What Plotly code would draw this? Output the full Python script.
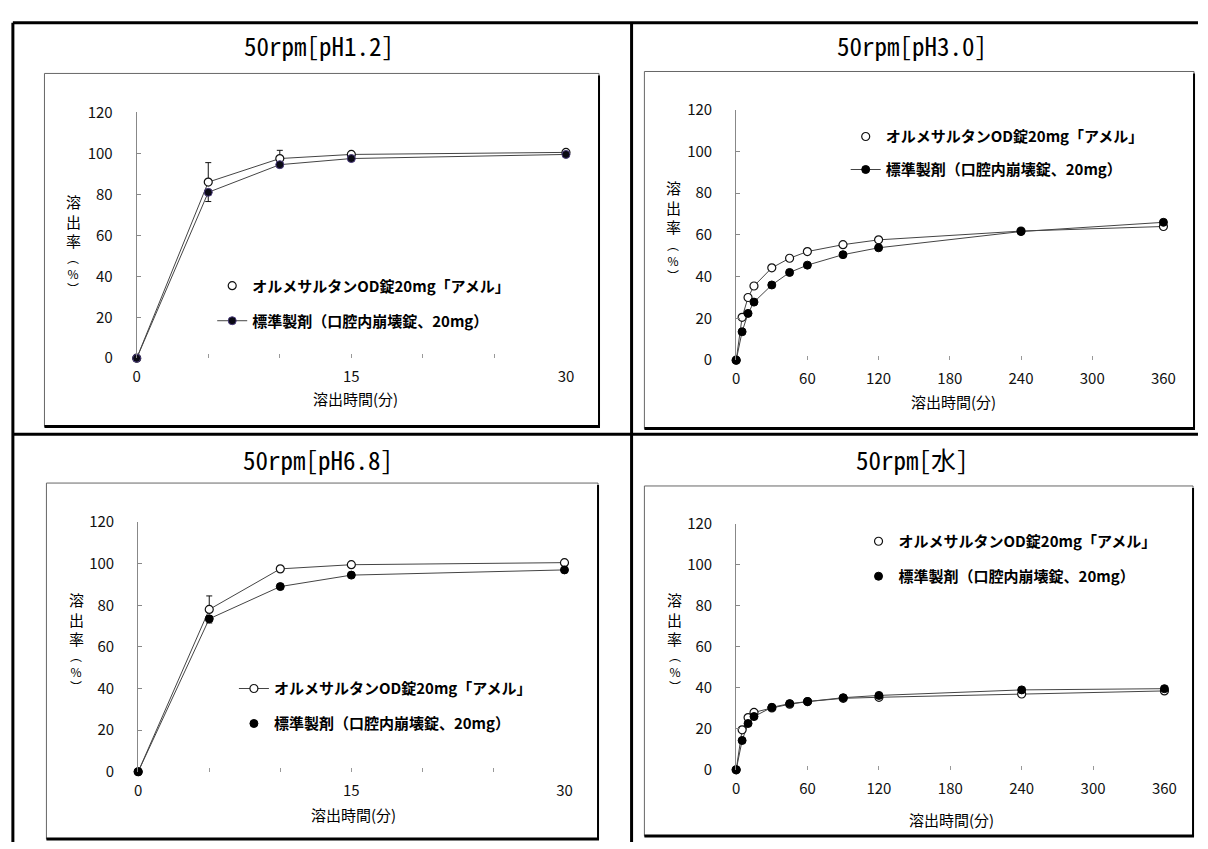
import plotly.graph_objects as go

W, H = 1208, 849

# ---------------- data ----------------
time_short = [0, 5, 10, 15, 30]
time_long = [0, 5, 10, 15, 30, 45, 60, 90, 120, 240, 360]

ph12_test = [0, 86, 97.5, 99.5, 100.5]
ph12_ref = [0, 81, 94.5, 97.5, 99.5]
ph12_test_err = [0, 9.5, 4, 0.5, 0.5]
ph12_ref_err = [0, 4.5, 1, 1, 0.5]

ph30_test = [0, 20.5, 30, 35.5, 44.2, 48.8, 52, 55.3, 57.6, 61.8, 64]
ph30_ref = [0, 13.6, 22.4, 27.8, 36, 42, 45.5, 50.5, 53.8, 61.6, 66]

ph68_test = [0, 78, 97.5, 99.5, 100.5]
ph68_ref = [0, 73.5, 89, 94.5, 97]
ph68_test_err = [0, 6.5, 0.5, 0.5, 0.5]
ph68_ref_err = [0, 2, 0.5, 0.5, 0.5]

water_test = [0, 19.5, 25.5, 28, 30.2, 32, 33.3, 34.9, 35.4, 37, 38.5]
water_ref = [0, 14.3, 22.6, 26, 30.5, 32.3, 33.3, 35.2, 36.3, 39, 39.6]

test_name = "オルメサルタンOD錠20mg「アメル」"
ref_name = "標準製剤（口腔内崩壊錠、20mg）"
panel_titles = ["50rpm[pH1.2]", "50rpm[pH3.0]", "50rpm[pH6.8]", "50rpm[水]"]
x_title = "溶出時間(分)"
y_title_main = "溶<br>出<br>率"
y_title_unit = "︵<br>%<br>︶"

y_ticks = [0, 20, 40, 60, 80, 100, 120]
x_ticks_short = [0, 5, 10, 15, 20, 25, 30]
x_ticktext_short = ["0", "", "", "15", "", "", "30"]
x_ticks_long = [0, 60, 120, 180, 240, 300, 360]
x_ticktext_long = ["0", "60", "120", "180", "240", "300", "360"]


def fx(p):
    return p / W


def fy(p):
    return 1 - p / H


JP = "Noto Sans CJK JP, Noto Sans, sans-serif"
MONO = "Noto Sans Mono CJK JP, Noto Sans CJK JP, DejaVu Sans Mono, monospace"
LINE_C = "#444"

fig = go.Figure()

open_marker = dict(symbol="circle", size=8, color="white", line=dict(color="#111", width=1.2))
fill_marker = dict(symbol="circle", size=8, color="#000", line=dict(color="#000", width=1))
fill_marker_p = dict(symbol="circle", size=8, color="#0a0a14", line=dict(color="#4a3b7c", width=1))


def err(vals, plus):
    if plus:
        return dict(type="data", array=vals, arrayminus=[0] * len(vals), symmetric=False,
                    color="#111", thickness=1, width=3)
    return dict(type="data", array=[0] * len(vals), arrayminus=vals, symmetric=False,
                color="#111", thickness=1, width=3)


# panel 1: pH1.2
fig.add_trace(go.Scatter(x=time_short, y=ph12_test, mode="lines", line=dict(color=LINE_C, width=1),
                         showlegend=False, xaxis="x", yaxis="y", cliponaxis=False, hoverinfo="skip"))
fig.add_trace(go.Scatter(x=time_short, y=ph12_test, mode="markers", marker=open_marker, name=test_name,
                         error_y=err(ph12_test_err, True), legendgroup="a1", legend="legend",
                         xaxis="x", yaxis="y", cliponaxis=False))
fig.add_trace(go.Scatter(x=time_short, y=ph12_ref, mode="lines+markers", marker=fill_marker_p,
                         line=dict(color=LINE_C, width=1), name=ref_name,
                         error_y=err(ph12_ref_err, False), legendgroup="b1", legend="legend",
                         xaxis="x", yaxis="y", cliponaxis=False))

# panel 2: pH3.0
fig.add_trace(go.Scatter(x=time_long, y=ph30_test, mode="lines", line=dict(color=LINE_C, width=1),
                         showlegend=False, xaxis="x2", yaxis="y2", cliponaxis=False, hoverinfo="skip"))
fig.add_trace(go.Scatter(x=time_long, y=ph30_test, mode="markers", marker=open_marker, name=test_name,
                         legendgroup="a2", legend="legend2", xaxis="x2", yaxis="y2", cliponaxis=False))
fig.add_trace(go.Scatter(x=time_long, y=ph30_ref, mode="lines+markers", marker=fill_marker,
                         line=dict(color=LINE_C, width=1), name=ref_name,
                         legendgroup="b2", legend="legend2", xaxis="x2", yaxis="y2", cliponaxis=False))

# panel 3: pH6.8
fig.add_trace(go.Scatter(x=time_short, y=ph68_ref, mode="lines", line=dict(color=LINE_C, width=1),
                         showlegend=False, xaxis="x3", yaxis="y3", cliponaxis=False, hoverinfo="skip"))
fig.add_trace(go.Scatter(x=time_short, y=ph68_test, mode="lines+markers", marker=open_marker,
                         line=dict(color=LINE_C, width=1), name=test_name,
                         error_y=err(ph68_test_err, True), legendgroup="a3", legend="legend3",
                         xaxis="x3", yaxis="y3", cliponaxis=False))
fig.add_trace(go.Scatter(x=time_short, y=ph68_ref, mode="markers", marker=fill_marker, name=ref_name,
                         error_y=err(ph68_ref_err, False), legendgroup="b3", legend="legend3",
                         xaxis="x3", yaxis="y3", cliponaxis=False))

# panel 4: water
fig.add_trace(go.Scatter(x=time_long, y=water_test, mode="lines", line=dict(color=LINE_C, width=1),
                         showlegend=False, xaxis="x4", yaxis="y4", cliponaxis=False, hoverinfo="skip"))
fig.add_trace(go.Scatter(x=time_long, y=water_ref, mode="lines", line=dict(color=LINE_C, width=1),
                         showlegend=False, xaxis="x4", yaxis="y4", cliponaxis=False, hoverinfo="skip"))
fig.add_trace(go.Scatter(x=time_long, y=water_test, mode="markers", marker=open_marker, name=test_name,
                         legendgroup="a4", legend="legend4", xaxis="x4", yaxis="y4", cliponaxis=False))
fig.add_trace(go.Scatter(x=time_long, y=water_ref, mode="markers", marker=fill_marker, name=ref_name,
                         legendgroup="b4", legend="legend4", xaxis="x4", yaxis="y4", cliponaxis=False))

# ---------------- layout geometry (pixels) ----------------
panels = [
    dict(x0=134.5, x1=569.5, ytop=103, ybot=355, xr=[0, 30], tv=x_ticks_short, tt=x_ticktext_short,
         title=(319, 34), xt=(356, 396), yt=(70, 214, 268),
         box=(41, 63, 603, 425), leg=(211, 264, 12.5)),
    dict(x0=742, x1=1175, ytop=100, ybot=357, xr=[0, 360], tv=x_ticks_long, tt=x_ticktext_long,
         title=(920, 34), xt=(962, 399), yt=(678, 200, 254),
         box=(649, 61, 1206, 427), leg=(853, 111, 10.5)),
    dict(x0=136, x1=568, ytop=523, ybot=779, xr=[0, 30], tv=x_ticks_short, tt=x_ticktext_short,
         title=(318, 458), xt=(354, 823), yt=(73, 622, 676),
         box=(43, 483, 602, 848), leg=(233, 677, 12.5)),
    dict(x0=742, x1=1176, ytop=525, ybot=777, xr=[0, 360], tv=x_ticks_long, tt=x_ticktext_long,
         title=(921, 458), xt=(960, 828), yt=(680, 622, 676),
         box=(649, 486, 1205, 845), leg=(866, 526, 12.5)),
]

layout = dict(
    width=W, height=H, margin=dict(l=0, r=0, t=0, b=0),
    paper_bgcolor="white", plot_bgcolor="rgba(0,0,0,0)",
    font=dict(family=JP, color="#000"),
    showlegend=True, hovermode=False,
)
shapes = []
annotations = []
tickfont = dict(family=JP, size=15, color="#111")

for i, p in enumerate(panels):
    sfx = "" if i == 0 else str(i + 1)
    layout["xaxis" + sfx] = dict(
        domain=[fx(p["x0"]), fx(p["x1"])], range=p["xr"], anchor="y" + sfx,
        showline=False, showgrid=False, zeroline=False,
        ticks="inside", ticklen=4, tickcolor="#999", tickwidth=1,
        tickvals=p["tv"], ticktext=p["tt"], tickfont=tickfont, ticklabelstandoff=8,
        fixedrange=True,
    )
    layout["yaxis" + sfx] = dict(
        domain=[fy(p["ybot"]), fy(p["ytop"])], range=[0, 120], anchor="x" + sfx,
        showline=True, linecolor="#888", linewidth=1, showgrid=False, zeroline=False,
        ticks="inside", ticklen=4, tickcolor="#888", tickwidth=1,
        tickvals=y_ticks, tickfont=tickfont, ticklabelstandoff=20,
        fixedrange=True,
    )
    lx, ltop, gap = p["leg"]
    layout["legend" + sfx] = dict(
        x=fx(lx), y=fy(ltop), xanchor="left", yanchor="top", xref="paper", yref="paper",
        bgcolor="rgba(0,0,0,0)", borderwidth=0, tracegroupgap=gap,
        font=dict(family=JP, size=15, color="#000", weight="bold"),
    )
    # panel title
    tx, ty = p["title"]
    annotations.append(dict(text=panel_titles[i], x=fx(tx), y=fy(ty), xref="paper", yref="paper",
                            showarrow=False, xanchor="center", yanchor="middle",
                            font=dict(family=MONO, size=25, color="#000")))
    # x axis title
    ax, ay = p["xt"]
    annotations.append(dict(text=x_title, x=fx(ax), y=fy(ay), xref="paper", yref="paper",
                            showarrow=False, xanchor="center", yanchor="middle",
                            font=dict(family=JP, size=15, color="#000")))
    # y axis title (vertical, stacked)
    yx, ya, yb = p["yt"]
    annotations.append(dict(text=y_title_main, x=fx(yx), y=fy(ya), xref="paper", yref="paper",
                            showarrow=False, xanchor="center", yanchor="middle",
                            font=dict(family=JP, size=15, color="#000")))
    annotations.append(dict(text=y_title_unit, x=fx(yx), y=fy(yb), xref="paper", yref="paper",
                            showarrow=False, xanchor="center", yanchor="middle",
                            font=dict(family=JP, size=12, color="#000")))
    # chart frame
    bx0, by0, bx1, by1 = p["box"]
    shapes.append(dict(type="rect", xref="paper", yref="paper", x0=fx(bx0), x1=fx(bx1), y0=fy(by1), y1=fy(by0),
                       line=dict(color="#666", width=1), fillcolor="rgba(0,0,0,0)", layer="below"))
    shapes.append(dict(type="line", xref="paper", yref="paper", x0=fx(bx0), x1=fx(bx1 + 1), y0=fy(by1), y1=fy(by1),
                       line=dict(color="#000", width=3)))
    shapes.append(dict(type="line", xref="paper", yref="paper", x0=fx(bx1), x1=fx(bx1), y0=fy(by0 + 2), y1=fy(by1),
                       line=dict(color="#000", width=2)))

# table grid
TL = dict(color="#000", width=3)
shapes += [
    dict(type="line", xref="paper", yref="paper", x0=fx(9), x1=fx(1210), y0=fy(11), y1=fy(11), line=TL),
    dict(type="line", xref="paper", yref="paper", x0=fx(9), x1=fx(9), y0=fy(11), y1=fy(851), line=TL),
    dict(type="line", xref="paper", yref="paper", x0=fx(636), x1=fx(636), y0=fy(11), y1=fy(851), line=TL),
    dict(type="line", xref="paper", yref="paper", x0=fx(9), x1=fx(1210), y0=fy(433), y1=fy(433), line=TL),
]

layout["shapes"] = shapes
layout["annotations"] = annotations
fig.update_layout(**layout)

fig.write_html(
    "out.html",
    config=dict(displayModeBar=False, staticPlot=False),
    post_script="document.body.style.margin='0';document.body.style.padding='0';"
                "document.body.style.overflow='hidden';",
)
